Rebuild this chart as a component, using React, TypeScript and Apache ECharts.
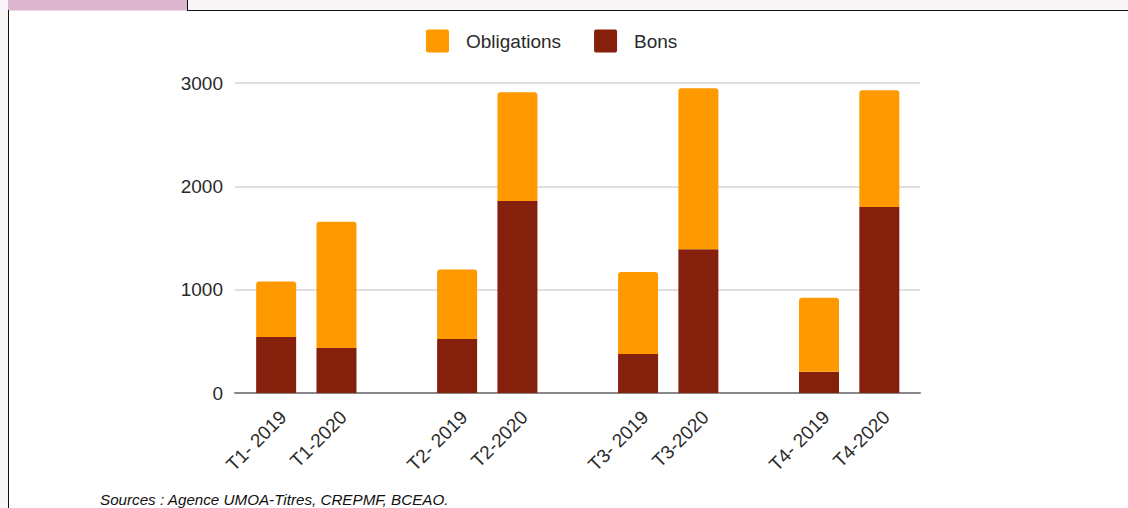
import React, { useEffect, useRef } from "react";
import * as echarts from "echarts";

const categories = ["T1- 2019", "T1-2020", "", "T2- 2019", "T2-2020", "", "T3- 2019", "T3-2020", "", "T4- 2019", "T4-2020"];
const bons = [541, 435, null, 522, 1858, null, 377, 1391, null, 206, 1800];
const obligations = [537, 1223, null, 673, 1053, null, 795, 1559, null, 715, 1130];
const yTicks = [0, 1000, 2000, 3000];
const sourceText = "Sources : Agence UMOA-Titres, CREPMF, BCEAO.";

const FONT = "Arial, 'Liberation Sans', sans-serif";
const SQUARE = "path://M2,0 H21 A2,2 0 0 1 23,2 V21 A2,2 0 0 1 21,23 H2 A2,2 0 0 1 0,21 V2 A2,2 0 0 1 2,0 Z";

export default function App() {
  const ref = useRef<HTMLDivElement>(null);
  useEffect(() => {
    if (!ref.current) return;
    const chart = echarts.init(ref.current, null, { renderer: "svg" });
    const yMin = yTicks[0];
    const yMax = yTicks[yTicks.length - 1];
    const yStep = yTicks[1] - yTicks[0];
    chart.setOption({
      animation: false,
      backgroundColor: "#ffffff",
      textStyle: { fontFamily: FONT },
      legend: {
        data: ["Obligations", "Bons"],
        left: 421,
        top: 24.5,
        itemWidth: 23,
        itemHeight: 23,
        itemGap: 33,
        icon: SQUARE,
        textStyle: { fontSize: 19, color: "#2a2a2a", fontFamily: FONT, padding: [0, 0, 0, 12] },
      },
      grid: [
        { left: 235, right: 208, top: 83, bottom: 115 },
        { left: 246, right: 218.5, top: 83, bottom: 115 },
        { left: 253, right: 211.5, top: 83, bottom: 115 },
      ],
      xAxis: [
        {
          type: "category",
          gridIndex: 0,
          data: categories,
          axisLine: { show: true, lineStyle: { color: "#888", width: 2 } },
          axisTick: { show: false },
          axisLabel: { show: false },
        },
        {
          type: "category",
          gridIndex: 1,
          data: categories,
          axisLine: { show: false },
          axisTick: { show: false },
          axisLabel: { show: false },
        },
        {
          type: "category",
          gridIndex: 2,
          data: categories,
          axisLine: { show: false },
          axisTick: { show: false },
          axisLabel: {
            show: true,
            interval: 0,
            rotate: 45,
            margin: 21,
            fontSize: 19,
            color: "#2a2a2a",
            fontFamily: FONT,
          },
        },
      ],
      yAxis: [
        {
          type: "value",
          gridIndex: 0,
          min: yMin,
          max: yMax,
          interval: yStep,
          axisLine: { show: false },
          axisTick: { show: false },
          axisLabel: {
            fontSize: 19,
            color: "#2a2a2a",
            margin: 12,
            fontFamily: FONT,
            formatter: (v: number) => String(v),
          },
          splitLine: { lineStyle: { color: "#d4d4d4", width: 1.5 } },
        },
        {
          type: "value",
          gridIndex: 1,
          min: yMin,
          max: yMax,
          interval: yStep,
          show: false,
        },
        {
          type: "value",
          gridIndex: 2,
          min: yMin,
          max: yMax,
          interval: yStep,
          show: false,
        },
      ],
      series: [
        {
          name: "Bons",
          type: "bar",
          stack: "total",
          xAxisIndex: 1,
          yAxisIndex: 1,
          barWidth: 40,
          data: bons,
          itemStyle: { color: "#85200c" },
        },
        {
          name: "Obligations",
          type: "bar",
          stack: "total",
          xAxisIndex: 1,
          yAxisIndex: 1,
          barWidth: 40,
          data: obligations,
          itemStyle: { color: "#ff9900", borderRadius: [3, 3, 0, 0] },
        },
      ],
      graphic: [
        { type: "rect", z: -10, shape: { x: 0, y: 0, width: 1128, height: 508 }, style: { fill: "#f8f6f6" }, silent: true },
        { type: "rect", z: -9, shape: { x: 8, y: 10, width: 1120, height: 498 }, style: { fill: "#ffffff" }, silent: true },
        { type: "rect", z: -9, shape: { x: 8, y: 0, width: 179, height: 10.5 }, style: { fill: "#dcb6cf" }, silent: true },
        { type: "line", z: -8, shape: { x1: 187, y1: 10.5, x2: 1128, y2: 10.5 }, style: { stroke: "#111", lineWidth: 1 }, silent: true },
        { type: "line", z: -8, shape: { x1: 187.5, y1: 0, x2: 187.5, y2: 10.5 }, style: { stroke: "#111", lineWidth: 1 }, silent: true },
        { type: "line", z: -8, shape: { x1: 8.5, y1: 10, x2: 8.5, y2: 508 }, style: { stroke: "#111", lineWidth: 1 }, silent: true },
        {
          type: "text",
          x: 100,
          y: 499,
          style: {
            text: sourceText,
            fontSize: 15.2,
            fontStyle: "italic",
            fontFamily: FONT,
            fill: "#111",
            verticalAlign: "middle",
            textAlign: "left",
          },
        },
      ],
    });
    return () => chart.dispose();
  }, []);
  return (
    <div
      ref={ref}
      style={{ position: "absolute", left: 0, top: 0, width: 1128, height: 508 }}
    />
  );
}
